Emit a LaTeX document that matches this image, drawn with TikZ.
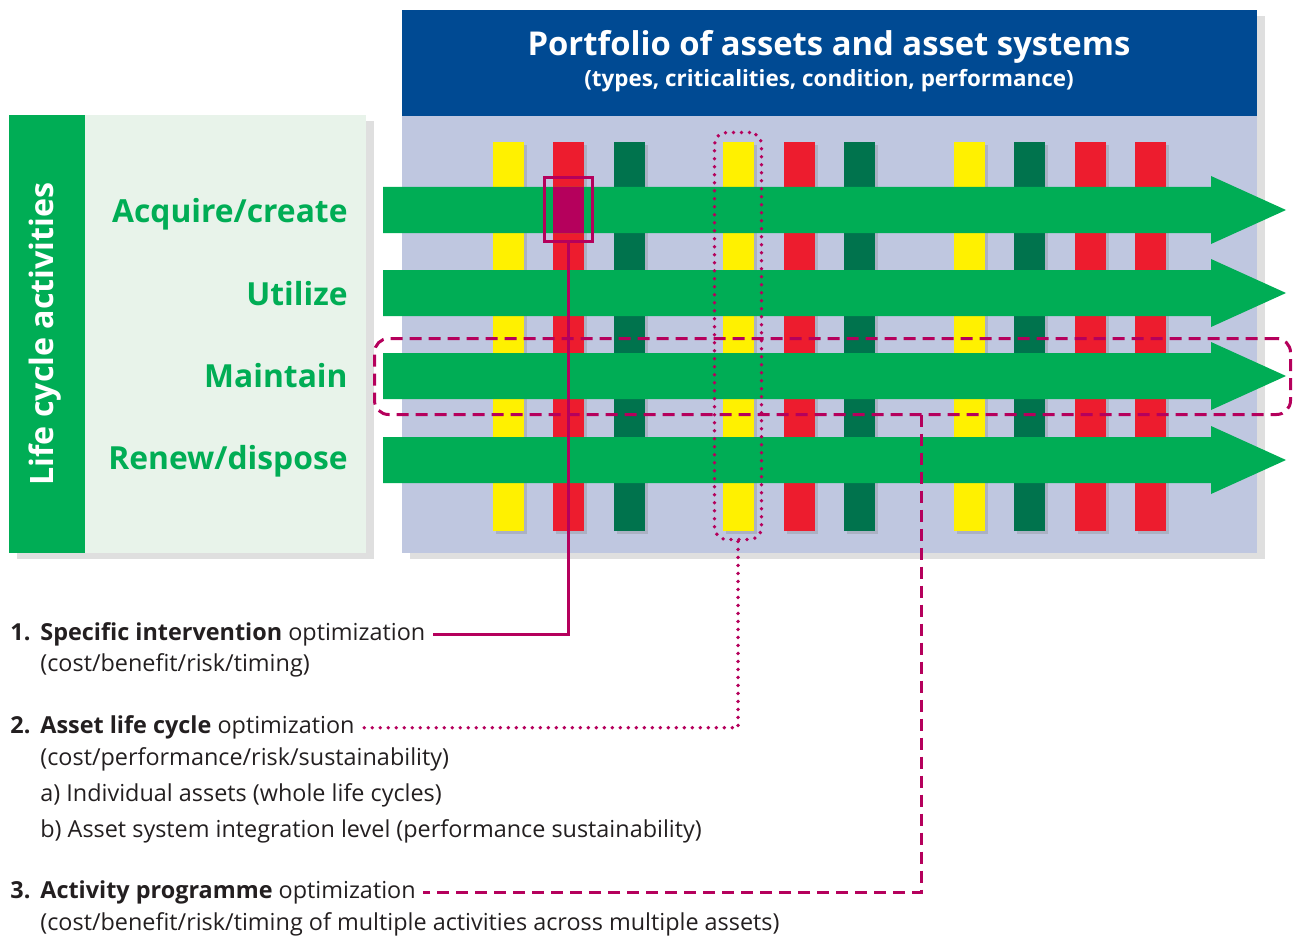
\documentclass[tikz,border=0pt]{standalone}
\usepackage{fontspec}
\setmainfont{Open Sans}
\usetikzlibrary{shadows}

\definecolor{AmsBlue}{HTML}{004A93}
\definecolor{AmsLavender}{HTML}{BFC7E0}
\definecolor{AmsGreen}{HTML}{00AD55}
\definecolor{AmsPale}{HTML}{E8F3EA}
\definecolor{AmsYellow}{HTML}{FFF100}
\definecolor{AmsRed}{HTML}{ED1C2E}
\definecolor{AmsDark}{HTML}{00734D}
\definecolor{AmsMagenta}{HTML}{B5005C}
\definecolor{AmsText}{HTML}{231F20}

\begin{document}
\begin{tikzpicture}[x=0.5pt,y=-0.5pt]
\useasboundingbox (0,0) rectangle (1293,941);

\tikzset{PanelShade/.style={drop shadow={shadow xshift=4pt,shadow yshift=-3pt,opacity=0.25}},
         BarShade/.style={drop shadow={shadow xshift=1.5pt,shadow yshift=-1.5pt,opacity=0.3}}}

% Scene rectangles
\fill [AmsLavender, PanelShade] (402,10) rectangle (1257,553);
\fill [AmsBlue] (402,10) rectangle (1257,116);
\fill [AmsPale, PanelShade] (9,115) rectangle (366,553);
\fill [AmsGreen] (9,115) rectangle (85,553);

% Asset bars
\foreach \bx/\bc in {493/AmsYellow, 553/AmsRed, 614/AmsDark, 723/AmsYellow, 784/AmsRed,
                     844/AmsDark, 954/AmsYellow, 1014/AmsDark, 1075/AmsRed, 1135/AmsRed}
    \fill [\bc, BarShade] (\bx,142) rectangle ++(31,389);

% Activity arrows
\foreach \ay in {210,293,376,460}
    \fill [AmsGreen] (383,\ay-23) -- (1211,\ay-23) -- (1211,\ay-34) -- (1286,\ay)
        -- (1211,\ay+34) -- (1211,\ay+23) -- (383,\ay+23) -- cycle;

\fill [AmsMagenta] (553,187) rectangle (584,233);

\begin{scope}[every node/.style={inner sep=0pt}]
    \node (title) at (829,56) [anchor=base, text=white, font=\bfseries\fontsize{16.4}{19}\selectfont]
        {Portfolio of assets and asset systems};
    \node (subtitle) at (829,87) [anchor=base, text=white, font=\bfseries\fontsize{11.2}{13}\selectfont]
        {(types, criticalities, condition, performance)};

    \node (lca) at (53,334) [rotate=90, anchor=base, text=white, font=\bfseries\fontsize{16.1}{19}\selectfont]
        {Life cycle activities};
\end{scope}

\tikzset{ActLabel/.style={anchor=base east, inner sep=0pt, text=AmsGreen, font=\bfseries\fontsize{15.9}{19}\selectfont}}

\node (acquire) at (348,222) [ActLabel] {Acquire/create};
\node (utilize) at (348,305) [ActLabel] {Utilize};
\node (maintain) at (348,387) [ActLabel] {Maintain};
\node (renew) at (348,469) [ActLabel] {Renew/dispose};

% Optimization scopes
\begin{scope}[every node/.style={inner sep=0pt}]
    \node (intbox) at (568.5,209.5) [draw=AmsMagenta, line width=1.5pt, minimum width=24pt, minimum height=32pt] {};
    \node (lcbox) at (738,336) [draw=AmsMagenta, line width=1.9pt, line cap=round, dash pattern=on 0pt off 4pt,
        rounded corners=6pt, minimum width=23.5pt, minimum height=203.5pt] {};
    \node (actbox) at (832.5,376.5) [draw=AmsMagenta, line width=1.5pt, dash pattern=on 6pt off 3.5pt,
        rounded corners=7pt, minimum width=458pt, minimum height=38pt] {};
\end{scope}

\tikzset{ItemText/.style={anchor=base west, inner ysep=0pt, inner xsep=3.5pt, text=AmsText, font=\fontsize{11.7}{14}\selectfont},
         ItemNum/.style={anchor=base west, inner sep=0pt, text=AmsText, font=\bfseries\fontsize{11.7}{14}\selectfont}}

\node (num1) at (10,640) [ItemNum] {1.};
\node (item1) at (33,640) [ItemText] {\textbf{Specific intervention} optimization};
\node (item1b) at (33,671) [ItemText] {(cost/benefit/risk/timing)};

\node (num2) at (10,733) [ItemNum] {2.};
\node (item2) at (33,733) [ItemText] {\textbf{Asset life cycle} optimization};
\node (item2b) at (33,765) [ItemText] {(cost/performance/risk/sustainability)};
\node (item2c) at (33,801) [ItemText] {a)\ Individual assets (whole life cycles)};
\node (item2d) at (33,837) [ItemText] {b)\ Asset system integration level (performance sustainability)};

\node (num3) at (10,898) [ItemNum] {3.};
\node (item3) at (33,898) [ItemText] {\textbf{Activity programme} optimization};
\node (item3b) at (33,930) [ItemText] {(cost/benefit/risk/timing of multiple activities across multiple assets)};

\coordinate (actfoot) at (921,414.5);

\begin{scope}[draw=AmsMagenta]
    \draw [line width=1.5pt] (intbox.south) |- (item1.mid east);
    \draw [line width=1.9pt, line cap=round, dash pattern=on 0pt off 4pt] (lcbox.south) |- (item2.mid east);
    \draw [line width=1.5pt, dash pattern=on 6pt off 3.5pt] (actfoot) |- (item3.mid east);
\end{scope}

\end{tikzpicture}
\end{document}
